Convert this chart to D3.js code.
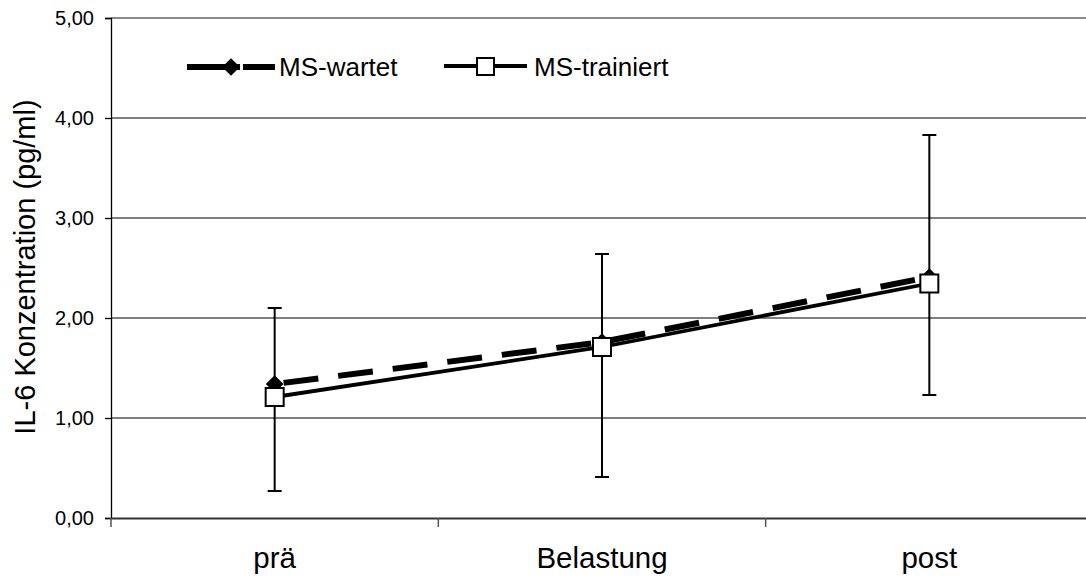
<!DOCTYPE html>
<html>
<head>
<meta charset="utf-8">
<script src="https://cdn.jsdelivr.net/npm/d3@7"></script>
<style>
  html, body { margin: 0; padding: 0; background: #fff; }
  svg { display: block; font-family: "Liberation Sans", Arial, sans-serif; }
</style>
</head>
<body>
<svg id="chart" width="1086" height="580"></svg>
<script>
// Messzeitpunkte
const categories = ["prä", "Belastung", "post"];

// Mittelwerte IL-6 (pg/ml)
const wartetValues = [1.34, 1.76, 2.41];
const trainiertValues = [1.21, 1.71, 2.345];

// Fehlerbalken: obere Grenze (MS-wartet), untere Grenze (MS-trainiert)
const wartetUpper = [2.10, 2.64, 3.83];
const trainiertLower = [0.27, 0.41, 1.23];

// Achsenbeschriftung
const yTicks = [0, 1, 2, 3, 4, 5];
const seriesNames = ["MS-wartet", "MS-trainiert"];
const yTitle = "IL-6 Konzentration (pg/ml)";

const svg = d3.select("#chart");
const plot = { left: 111, top: 18, right: 1093, bottom: 518 };

const x = d3.scaleBand().domain(categories).range([plot.left, plot.right]).padding(0);
const y = d3.scaleLinear().domain([0, 5]).range([plot.bottom, plot.top]);
const cx = c => x(c) + x.bandwidth() / 2;

// Gitternetzlinien
svg.append("g")
  .selectAll("line")
  .data(yTicks.filter(t => t > 0 && t < 5))
  .join("line")
  .attr("x1", plot.left).attr("x2", plot.right)
  .attr("y1", d => y(d)).attr("y2", d => y(d))
  .attr("stroke", "#000").attr("stroke-width", 1.2);

// obere Rahmenlinie
svg.append("line")
  .attr("x1", plot.left).attr("x2", plot.right)
  .attr("y1", y(5)).attr("y2", y(5))
  .attr("stroke", "#8a8a8a").attr("stroke-width", 2);

// y-Achse
const yAxis = d3.axisLeft(y)
  .tickValues(yTicks)
  .tickSize(6)
  .tickPadding(11)
  .tickFormat(d => d3.format(".2f")(d).replace(".", ","));
const gy = svg.append("g").attr("transform", `translate(${plot.left},0)`).call(yAxis);
gy.select(".domain").attr("stroke", "#000").attr("stroke-width", 1.3);
gy.selectAll(".tick line").attr("stroke", "#000").attr("stroke-width", 1.3);
gy.selectAll(".tick text").attr("font-size", 20).attr("fill", "#000")
  .attr("font-family", "Liberation Sans, Arial, sans-serif");

// x-Achse
const xAxis = d3.axisBottom(x).tickSize(0).tickPadding(0);
const gx = svg.append("g").attr("transform", `translate(0,${plot.bottom})`).call(xAxis);
gx.select(".domain").attr("stroke", "#333").attr("stroke-width", 2);
gx.selectAll(".tick text")
  .attr("font-size", 29.5).attr("fill", "#000").attr("dy", 0).attr("y", 50)
  .attr("font-family", "Liberation Sans, Arial, sans-serif");
// Trennstriche zwischen den Kategorien
svg.append("g")
  .selectAll("line")
  .data(categories)
  .join("line")
  .attr("x1", d => x(d)).attr("x2", d => x(d))
  .attr("y1", plot.bottom).attr("y2", plot.bottom + 9)
  .attr("stroke", "#555").attr("stroke-width", 1.5);

// y-Titel
svg.append("text")
  .attr("transform", `translate(35,${(plot.top + plot.bottom) / 2 - 1}) rotate(-90)`)
  .attr("text-anchor", "middle")
  .attr("font-size", 29)
  .attr("fill", "#000")
  .text(yTitle);

// Fehlerbalken
const capW = 7;
function errorBars(values, bounds) {
  const g = svg.append("g").attr("stroke", "#000").attr("stroke-width", 2);
  categories.forEach((c, i) => {
    g.append("line")
      .attr("x1", cx(c)).attr("x2", cx(c))
      .attr("y1", y(values[i])).attr("y2", y(bounds[i]));
    g.append("line")
      .attr("x1", cx(c) - capW).attr("x2", cx(c) + capW)
      .attr("y1", y(bounds[i])).attr("y2", y(bounds[i]));
  });
}
errorBars(wartetValues, wartetUpper);
errorBars(trainiertValues, trainiertLower);

// Linien
const line = d3.line().x((d, i) => cx(categories[i])).y(d => y(d));
svg.append("path")
  .datum(wartetValues)
  .attr("d", line)
  .attr("fill", "none").attr("stroke", "#000")
  .attr("stroke-width", 6)
  .attr("stroke-dasharray", "35,20")
  .attr("stroke-dashoffset", -9);
svg.append("path")
  .datum(trainiertValues)
  .attr("d", line)
  .attr("fill", "none").attr("stroke", "#000")
  .attr("stroke-width", 3.8);

// Marker
const diamond = d3.symbol().type(d3.symbolDiamond2).size(200);
svg.append("g")
  .selectAll("path")
  .data(wartetValues)
  .join("path")
  .attr("d", diamond)
  .attr("transform", (d, i) => `translate(${cx(categories[i])},${y(d)})`)
  .attr("fill", "#000");
const sq = 18;
svg.append("g")
  .selectAll("rect")
  .data(trainiertValues)
  .join("rect")
  .attr("x", (d, i) => cx(categories[i]) - sq / 2)
  .attr("y", d => y(d) - sq / 2)
  .attr("width", sq).attr("height", sq)
  .attr("fill", "#fff").attr("stroke", "#000").attr("stroke-width", 2);

// Legende
const leg = svg.append("g");
leg.append("line").attr("x1", 187).attr("x2", 275).attr("y1", 67).attr("y2", 67)
  .attr("stroke", "#000").attr("stroke-width", 6);
leg.append("line").attr("x1", 240).attr("x2", 243).attr("y1", 67).attr("y2", 67)
  .attr("stroke", "#fff").attr("stroke-width", 8);
leg.append("path").attr("d", diamond).attr("transform", "translate(231,67)").attr("fill", "#000");
leg.append("text").attr("x", 279).attr("y", 76).attr("font-size", 26).attr("fill", "#000")
  .text(seriesNames[0]);

leg.append("line").attr("x1", 444).attr("x2", 527).attr("y1", 66).attr("y2", 66)
  .attr("stroke", "#000").attr("stroke-width", 3.8);
leg.append("rect").attr("x", 477).attr("y", 58).attr("width", 17).attr("height", 17)
  .attr("fill", "#fff").attr("stroke", "#000").attr("stroke-width", 2);
leg.append("text").attr("x", 534).attr("y", 76).attr("font-size", 26).attr("fill", "#000")
  .text(seriesNames[1]);
</script>
</body>
</html>
